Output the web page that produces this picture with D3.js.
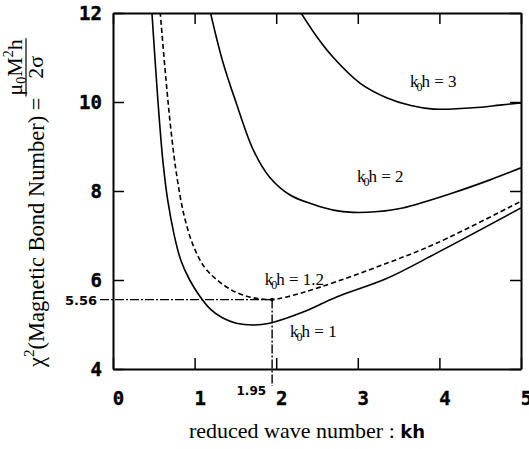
<!DOCTYPE html>
<html lang="en">
    <head>
        <meta charset="utf-8">
        <title>bond number</title>
        <script type="text/javascript" src="https://d3js.org/d3.v7.min.js"></script>
        <style type="text/css">
        body { margin: 0; background: #fff; }
        .tick text { font-family: "DejaVu Sans Mono", monospace; font-weight: bold; font-size: 19px; fill: #000; stroke: #000; stroke-width: 0.4px; }
        .serif { font-family: "Liberation Serif", "Times New Roman", serif; fill: #000; }
        </style>
    </head>
    <body>
        <div id="drawing"></div>
        <script type="text/javascript">
            // curves: kh vs chi^2
            var kh1   = [0.47, 0.55, 0.61, 0.67, 0.75, 0.83, 0.94, 1.07, 1.19, 1.34, 1.51, 1.72, 1.92, 2.33, 2.74, 3.36, 3.97, 5.0];
            var chi1  = [12.2, 10.04, 8.7, 7.8, 7.01, 6.45, 6.0, 5.62, 5.35, 5.15, 5.03, 4.99, 5.03, 5.28, 5.62, 6.04, 6.61, 7.62];

            var kh12  = [0.57, 0.65, 0.71, 0.78, 0.87, 0.98, 1.12, 1.29, 1.50, 1.72, 1.95, 2.13, 2.54, 3.36, 3.97, 5.0];
            var chi12 = [12.2, 10.49, 9.37, 8.36, 7.46, 6.79, 6.29, 5.98, 5.73, 5.60, 5.56, 5.62, 5.84, 6.38, 6.83, 7.77];

            var kh2   = [1.17, 1.34, 1.51, 1.72, 1.92, 2.17, 2.45, 2.70, 2.94, 3.25, 3.55, 4.17, 4.62, 5.0];
            var chi2  = [12.2, 10.94, 9.98, 8.92, 8.31, 7.91, 7.70, 7.57, 7.52, 7.54, 7.62, 7.96, 8.25, 8.52];

            var kh3   = [2.27, 2.50, 2.70, 3.03, 3.36, 3.65, 3.93, 4.41, 4.74, 5.0];
            var chi3  = [12.1, 11.46, 11.0, 10.42, 10.09, 9.92, 9.84, 9.87, 9.93, 9.98];

            var curveNames = ["3", "2", "1.2", "1"];
            var xTicks = [0, 1, 2, 3, 4, 5];
            var yTicks = [4, 6, 8, 10, 12];
            var markKh = 1.95;
            var markChi = 5.56;

            var W = 529, H = 449;
            var pLeft = 113, pRight = 521, pTop = 13, pBottom = 369;

            var svg = d3.select("#drawing")
                .append("svg")
                .attr("width", W)
                .attr("height", H);

            var x = d3.scaleLinear().domain([0, 5]).range([pLeft, pRight]);
            var y = d3.scaleLinear().domain([4, 12]).range([pBottom, pTop]);

            svg.append("clipPath").attr("id", "plot")
                .append("rect")
                .attr("x", pLeft).attr("y", pTop)
                .attr("width", pRight - pLeft).attr("height", pBottom - pTop);

            // axes, ticks pointing inward
            var gx = svg.append("g")
                .attr("transform", "translate(0," + pBottom + ")")
                .call(d3.axisBottom(x).tickValues(xTicks).tickFormat(d3.format("d"))
                    .tickSizeInner(-11).tickSizeOuter(0).tickPadding(23));
            gx.selectAll("text").attr("dx", 5);

            var gy = svg.append("g")
                .attr("transform", "translate(" + pLeft + ",0)")
                .call(d3.axisLeft(y).tickValues(yTicks).tickFormat(d3.format("d"))
                    .tickSizeInner(-11).tickSizeOuter(0).tickPadding(11));

            svg.append("g")
                .attr("transform", "translate(0," + pTop + ")")
                .call(d3.axisTop(x).tickValues(xTicks).tickFormat("")
                    .tickSizeInner(-11).tickSizeOuter(0));

            svg.append("g")
                .attr("transform", "translate(" + pRight + ",0)")
                .call(d3.axisRight(y).tickValues(yTicks).tickFormat("")
                    .tickSizeInner(-11).tickSizeOuter(0));

            svg.selectAll(".domain").attr("stroke-width", 2);
            svg.selectAll(".tick line").attr("stroke-width", 1.5);

            // curves
            var line = d3.line()
                .x(function(d){ return x(d[0]); })
                .y(function(d){ return y(d[1]); })
                .curve(d3.curveCatmullRom.alpha(0.5));

            var curves = [
                {kh: kh3, chi: chi3, dash: null},
                {kh: kh2, chi: chi2, dash: null},
                {kh: kh12, chi: chi12, dash: "5,3"},
                {kh: kh1, chi: chi1, dash: null}
            ];

            curves.forEach(function(c){
                var pts = d3.zip(c.kh, c.chi);
                svg.append("path")
                    .attr("d", line(pts))
                    .attr("clip-path", "url(#plot)")
                    .attr("fill", "none")
                    .attr("stroke", "#000")
                    .attr("stroke-width", 1.6)
                    .attr("stroke-dasharray", c.dash);
            });

            // curve labels
            var labelAt = [[3.64, 10.34], [2.99, 8.2], [1.86, 5.89], [2.17, 4.72]];
            curveNames.forEach(function(n, i){
                var t = svg.append("text")
                    .attr("class", "serif")
                    .attr("x", x(labelAt[i][0]))
                    .attr("y", y(labelAt[i][1]))
                    .attr("font-size", "17px");
                t.append("tspan").text("k");
                t.append("tspan").attr("dx", -2).attr("dy", 4).attr("font-size", "12px").text("0");
                t.append("tspan").attr("dx", -1).attr("dy", -4).text("h = " + n);
            });

            // 5.56 / 1.95 guide lines
            svg.append("line")
                .attr("x1", pLeft - 13).attr("x2", x(markKh))
                .attr("y1", y(markChi)).attr("y2", y(markChi))
                .attr("stroke", "#000").attr("stroke-width", 1.4)
                .attr("stroke-dasharray", "9,2,2,2");
            svg.append("line")
                .attr("x1", x(markKh)).attr("x2", x(markKh))
                .attr("y1", y(markChi)).attr("y2", pBottom + 17)
                .attr("stroke", "#000").attr("stroke-width", 1.4)
                .attr("stroke-dasharray", "9,2,2,2");
            svg.append("circle")
                .attr("cx", x(markKh)).attr("cy", y(markChi)).attr("r", 1.8);

            svg.append("text")
                .attr("x", pLeft - 16).attr("y", y(markChi) + 5)
                .attr("text-anchor", "end")
                .attr("font-family", "DejaVu Sans, sans-serif")
                .attr("font-weight", "bold")
                .attr("font-size", "13px")
                .text("5.56");
            svg.append("text")
                .attr("x", x(markKh) - 6).attr("y", pBottom + 26)
                .attr("text-anchor", "end")
                .attr("font-family", "DejaVu Sans, sans-serif")
                .attr("font-weight", "bold")
                .attr("font-size", "12px")
                .text("1.95");

            // x axis title
            var xt = svg.append("text")
                .attr("class", "serif")
                .attr("x", 307).attr("y", 438)
                .attr("text-anchor", "middle")
                .attr("font-size", "22px");
            xt.append("tspan").text("reduced wave number :  ");
            xt.append("tspan")
                .attr("font-family", "DejaVu Sans, sans-serif")
                .attr("font-weight", "bold")
                .attr("font-size", "18px")
                .text("kh");

            // y axis title, rotated
            var yt = svg.append("g")
                .attr("transform", "translate(44,367) rotate(-90)");
            var main = yt.append("text")
                .attr("class", "serif")
                .attr("x", 0).attr("y", 0)
                .attr("font-size", "22.5px");
            main.append("tspan").text("\u03c7");
            main.append("tspan").attr("dy", -10).attr("font-size", "15px").text("2");
            main.append("tspan").attr("dy", 10).text("(Magnetic Bond Number) = ");

            var fx = main.node().getComputedTextLength() + 2;
            var num = yt.append("text")
                .attr("class", "serif")
                .attr("x", fx).attr("y", -22)
                .attr("font-size", "22px");
            num.append("tspan").text("\u03bc");
            num.append("tspan").attr("dy", 4).attr("font-size", "14px").text("0");
            num.append("tspan").attr("dy", -4).text("M");
            num.append("tspan").attr("dy", -9).attr("font-size", "14px").text("2");
            num.append("tspan").attr("dy", 9).text("h");
            var nw = num.node().getComputedTextLength();

            yt.append("line")
                .attr("x1", fx - 1).attr("x2", fx + nw + 1)
                .attr("y1", -18).attr("y2", -18)
                .attr("stroke", "#000").attr("stroke-width", 1.2);

            yt.append("text")
                .attr("class", "serif")
                .attr("x", fx + nw / 2).attr("y", -1)
                .attr("text-anchor", "middle")
                .attr("font-size", "22px")
                .text("2\u03c3");
        </script>
    </body>
</html>
